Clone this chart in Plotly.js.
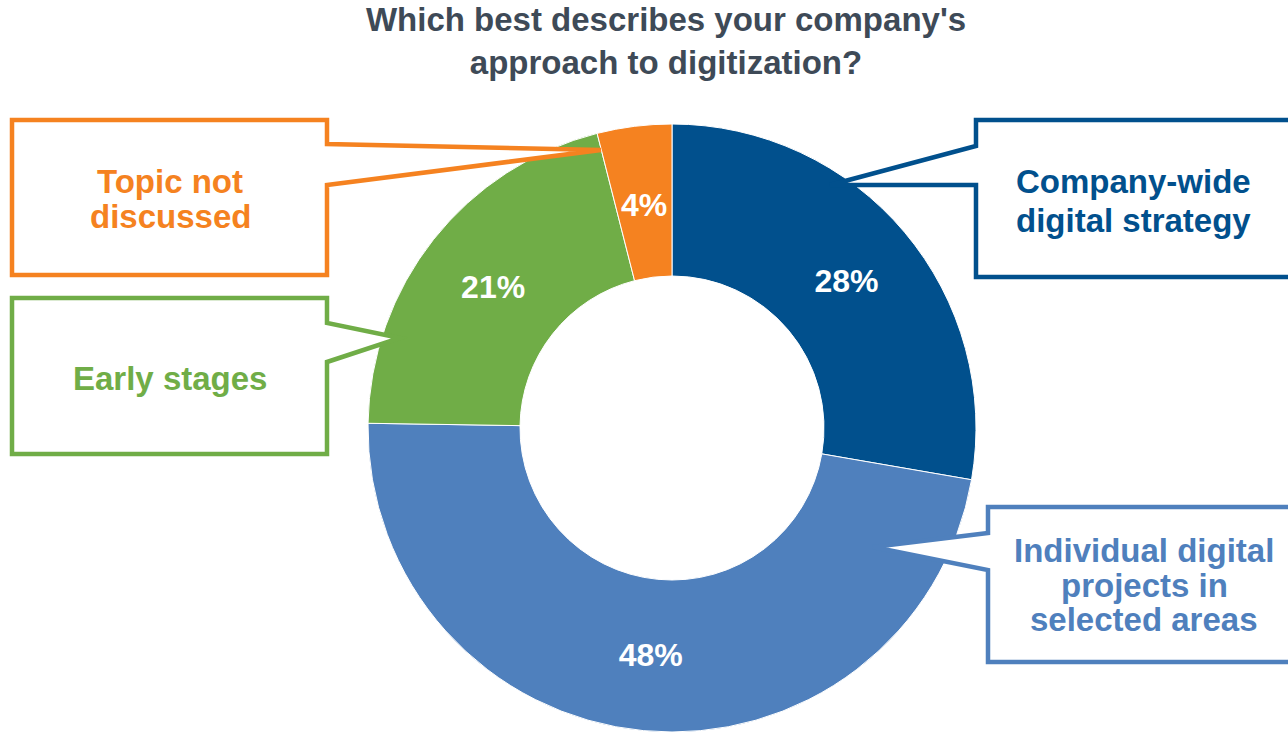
<!DOCTYPE html>
<html>
<head>
<meta charset="utf-8">
<script src="https://cdn.plot.ly/plotly-3.0.1.min.js"></script>
<style>html,body{margin:0;padding:0;background:#fff;}#chart{width:1288px;height:732px;}</style>
</head>
<body>
<div id="chart"></div>
<script>
// ---- data ----
const categories = ['Company-wide digital strategy', 'Individual digital projects in selected areas', 'Early stages', 'Topic not discussed'];
const values = [28, 48, 21, 4];
const sliceColors = ['#01508D', '#4F80BD', '#70AD47', '#F58220'];
const calloutLines = [
  ['Company-wide', 'digital strategy'],
  ['Individual digital', 'projects in', 'selected areas'],
  ['Early stages'],
  ['Topic not', 'discussed']
];
const titleText = "Which best describes your company's<br>approach to digitization?";

// ---- layout helpers (pixel -> paper) ----
const W = 1288, H = 732;
const px = x => x / W;
const py = y => 1 - y / H;
function pathFrom(pts) {
  return 'M ' + pts.map(p => px(p[0]).toFixed(5) + ' ' + py(p[1]).toFixed(5)).join(' L ') + ' Z';
}

// pie geometry (pixels)
const R = 304, CX = 672, CY = H - R;

// callout geometry (box + pointer), in pixels
const calloutGeom = [
  {pts: [[1295,120],[976,120],[976,146],[830,185],[976,185],[976,277],[1295,277]], tx: 1133, ty: [181, 220]},
  {pts: [[1295,507],[988,507],[988,533],[873,547],[988,570],[988,662],[1295,662]], tx: 1144, ty: [550, 585, 619]},
  {pts: [[12,298],[327,298],[327,323],[400,338],[327,362],[327,454],[12,454]], tx: 170, ty: [378]},
  {pts: [[12,120],[327,120],[327,144],[601,150],[327,185],[327,275],[12,275]], tx: 170, ty: [181, 217]}
];

const labelFont = {family: 'Liberation Sans, Arial, sans-serif', size: 33, weight: 'bold'};

const shapes = [];
const annotations = [];
calloutGeom.forEach((g, i) => {
  shapes.push({
    type: 'path', xref: 'paper', yref: 'paper', layer: 'above',
    path: pathFrom(g.pts),
    fillcolor: '#ffffff',
    line: {color: sliceColors[i], width: 4.5}
  });
  calloutLines[i].forEach((t, k) => {
    annotations.push({
      xref: 'paper', yref: 'paper', x: px(g.tx), y: py(g.ty[k]),
      xanchor: 'center', yanchor: 'middle', showarrow: false,
      text: t,
      font: Object.assign({}, labelFont, {color: sliceColors[i]})
    });
  });
});

// small slice: its percent label is placed at the slice's mid-angle, mid-ring (too narrow for plotly's inside text)
const total = values.reduce((a, b) => a + b, 0);
const smallIdx = values.indexOf(Math.min(...values));
const before = values.slice(0, smallIdx).reduce((a, b) => a + b, 0);
const midAng = (before + values[smallIdx] / 2) / total * 2 * Math.PI;
const midR = 0.75 * R;
annotations.push({
  xref: 'paper', yref: 'paper',
  x: px(CX + midR * Math.sin(midAng)), y: py(CY - midR * Math.cos(midAng) + 3),
  xanchor: 'center', yanchor: 'middle', showarrow: false,
  text: values[smallIdx] + '%',
  font: Object.assign({}, labelFont, {size: 32, color: '#ffffff'})
});

const texts = values.map((v, i) => i === smallIdx ? '' : v + '%');

const trace = {
  type: 'pie',
  labels: categories,
  values: values,
  text: texts,
  sort: false,
  direction: 'clockwise',
  rotation: 0,
  hole: 0.5,
  marker: {colors: sliceColors, line: {color: '#ffffff', width: 1}},
  texttemplate: '%{text}',
  textposition: 'inside',
  insidetextorientation: 'horizontal',
  textfont: {family: 'Liberation Sans, Arial, sans-serif', size: 32, color: '#ffffff', weight: 'bold'},
  domain: {x: [px(CX - R), px(CX + R)], y: [0, 2 * R / H]},
  hoverinfo: 'label+percent',
  showlegend: false
};

const layout = {
  width: W, height: H,
  margin: {l: 0, r: 0, t: 0, b: 0},
  paper_bgcolor: '#ffffff',
  showlegend: false,
  title: {
    text: titleText,
    x: px(666), xanchor: 'center', xref: 'paper',
    y: py(31), yanchor: 'middle', yref: 'paper',
    font: {family: 'Liberation Sans, Arial, sans-serif', size: 33, color: '#3E4A57', weight: 'bold'}
  },
  shapes: shapes,
  annotations: annotations
};

Plotly.newPlot('chart', [trace], layout, {displayModeBar: false, staticPlot: true});
</script>
</body>
</html>
